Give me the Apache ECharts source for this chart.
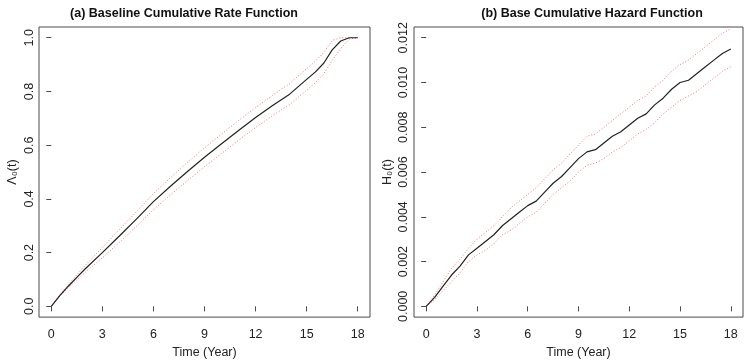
<!DOCTYPE html>
<html>
<head>
<meta charset="utf-8">
<script src="https://cdn.jsdelivr.net/npm/echarts@6/dist/echarts.min.js"></script>
<style>
  html, body { margin: 0; padding: 0; background: #fff; }
  #main { width: 749px; height: 364px; }
</style>
</head>
<body>
<div id="main"></div>
<script>
// (a) baseline cumulative rate function
var timeA = [0, 0.5, 1, 1.5, 2, 3, 4, 5, 6, 7, 8, 9, 10, 11, 12, 13, 14, 15, 15.5, 16, 16.5, 17, 17.5, 18];
var rateMid = [0, 0.04, 0.075, 0.108, 0.14, 0.2, 0.262, 0.325, 0.39, 0.447, 0.502, 0.555, 0.605, 0.655, 0.703, 0.748, 0.79, 0.845, 0.872, 0.905, 0.955, 0.988, 1.0, 1.0];
var rateUp = [0, 0.042, 0.081, 0.117, 0.153, 0.219, 0.286, 0.352, 0.42, 0.479, 0.536, 0.59, 0.641, 0.692, 0.74, 0.786, 0.829, 0.885, 0.912, 0.945, 0.99, 1.0, 1.0, 1.0];
var rateLo = [0, 0.038, 0.069, 0.099, 0.127, 0.181, 0.238, 0.298, 0.36, 0.415, 0.468, 0.52, 0.569, 0.618, 0.666, 0.71, 0.751, 0.805, 0.832, 0.865, 0.915, 0.96, 0.995, 1.0];

// (b) base cumulative hazard function
var timeB = [0, 0.25, 0.5, 1, 1.5, 2, 2.5, 3, 3.5, 4, 4.5, 5, 5.5, 6, 6.5, 7, 7.5, 8, 8.5, 9, 9.5, 10, 10.5, 11, 11.5, 12, 12.5, 13, 13.5, 14, 14.5, 15, 15.5, 16, 16.5, 17, 17.5, 18];
var hazMid = [0, 0.0002, 0.0004, 0.0009, 0.0014, 0.0018, 0.0023, 0.0026, 0.0029, 0.0032, 0.0036, 0.0039, 0.0042, 0.0045, 0.0047, 0.0051, 0.0055, 0.0058, 0.0062, 0.0066, 0.0069, 0.007, 0.0073, 0.0076, 0.0078, 0.0081, 0.0084, 0.0086, 0.009, 0.0093, 0.0097, 0.01, 0.0101, 0.0104, 0.0107, 0.011, 0.0113, 0.0115];
var hazUp = [0, 0.00025, 0.0005, 0.0011, 0.0017, 0.0021, 0.0026, 0.003, 0.0033, 0.0036, 0.004, 0.0044, 0.0047, 0.005, 0.0053, 0.0057, 0.0061, 0.0064, 0.0068, 0.0072, 0.0076, 0.0077, 0.008, 0.0083, 0.0086, 0.0089, 0.0092, 0.0094, 0.0098, 0.0101, 0.0105, 0.0108, 0.011, 0.0113, 0.0116, 0.0119, 0.0122, 0.0124];
var hazLo = [0, 0.00015, 0.0003, 0.0007, 0.0011, 0.0015, 0.002, 0.0023, 0.0025, 0.0028, 0.0032, 0.0034, 0.0037, 0.004, 0.0042, 0.0046, 0.005, 0.0053, 0.0056, 0.006, 0.0063, 0.0064, 0.0066, 0.0069, 0.0071, 0.0074, 0.0077, 0.0079, 0.0082, 0.0086, 0.0089, 0.0092, 0.0094, 0.0096, 0.0099, 0.0102, 0.0105, 0.0107];

// tick values
var xTicks = [0, 3, 6, 9, 12, 15, 18];
var yTicksA = [0, 0.2, 0.4, 0.6, 0.8, 1.0];
var yTicksB = [0, 0.002, 0.004, 0.006, 0.008, 0.01, 0.012];

function pairs(xs, ys) {
  var out = [];
  for (var i = 0; i < xs.length; i++) out.push([xs[i], ys[i]]);
  return out;
}

var font = 'Liberation Sans, Arial, sans-serif';
var boxColor = '#4a4a4a';

function xAxisFor(idx) {
  return {
    type: 'value',
    gridIndex: idx,
    min: -0.72,
    max: 18.72,
    name: 'Time (Year)',
    nameLocation: 'middle',
    nameGap: 18,
    nameTextStyle: { fontFamily: font, fontSize: 12.5, color: '#222' },
    axisLine: { show: false },
    axisTick: { show: true, inside: false, length: 5, customValues: xTicks, lineStyle: { color: boxColor } },
    axisLabel: { customValues: xTicks, margin: 11, fontFamily: font, fontSize: 12.5, color: '#222' },
    splitLine: { show: false }
  };
}

function yAxisFor(idx, ticks, pad, digits, name, margin) {
  return {
    type: 'value',
    gridIndex: idx,
    min: -pad,
    max: ticks[ticks.length - 1] + pad,
    name: name,
    nameLocation: 'middle',
    nameGap: 20,
    nameRotate: 90,
    nameTextStyle: { fontFamily: font, fontSize: 12.5, color: '#222' },
    axisLine: { show: false },
    axisTick: { show: true, inside: false, length: 5, customValues: ticks, lineStyle: { color: boxColor } },
    axisLabel: {
      customValues: ticks, rotate: 90, margin: margin,
      fontFamily: font, fontSize: 12.5, color: '#222',
      formatter: function (v) { return v.toFixed(digits); }
    },
    splitLine: { show: false }
  };
}

function lineSeries(idx, xs, ys, dotted) {
  return {
    type: 'line',
    xAxisIndex: idx,
    yAxisIndex: idx,
    data: pairs(xs, ys),
    showSymbol: false,
    smooth: false,
    z: dotted ? 2 : 3,
    lineStyle: dotted
      ? { color: 'rgba(235,70,70,0.75)', width: 1, type: [1, 2] }
      : { color: '#222', width: 1.2 }
  };
}

var chart = echarts.init(document.getElementById('main'), null, { renderer: 'canvas' });
var option = {
  backgroundColor: '#fff',
  animation: false,
  title: [
    { text: '(a) Baseline Cumulative Rate Function', left: 179, top: 2, textAlign: 'center',
      textStyle: { fontFamily: font, fontSize: 12.5, fontWeight: 'bold', color: '#111' } },
    { text: '(b) Base Cumulative Hazard Function', left: 587, top: 2, textAlign: 'center',
      textStyle: { fontFamily: font, fontSize: 12.5, fontWeight: 'bold', color: '#111' } }
  ],
  grid: [
    { left: 39, right: 379, top: 27, bottom: 36, show: true, borderColor: boxColor, borderWidth: 1, backgroundColor: 'transparent' },
    { left: 414, right: 6, top: 27, bottom: 36, show: true, borderColor: boxColor, borderWidth: 1, backgroundColor: 'transparent' }
  ],
  xAxis: [xAxisFor(0), xAxisFor(1)],
  yAxis: [
    yAxisFor(0, yTicksA, 0.04, 1, 'Λ₀(t)', 3),
    yAxisFor(1, yTicksB, 0.00048, 3, 'H₀(t)', 4)
  ],
  series: [
    lineSeries(0, timeA, rateUp, true),
    lineSeries(0, timeA, rateLo, true),
    lineSeries(0, timeA, rateMid, false),
    lineSeries(1, timeB, hazUp, true),
    lineSeries(1, timeB, hazLo, true),
    lineSeries(1, timeB, hazMid, false)
  ]
};
chart.setOption(option);
</script>
</body>
</html>
